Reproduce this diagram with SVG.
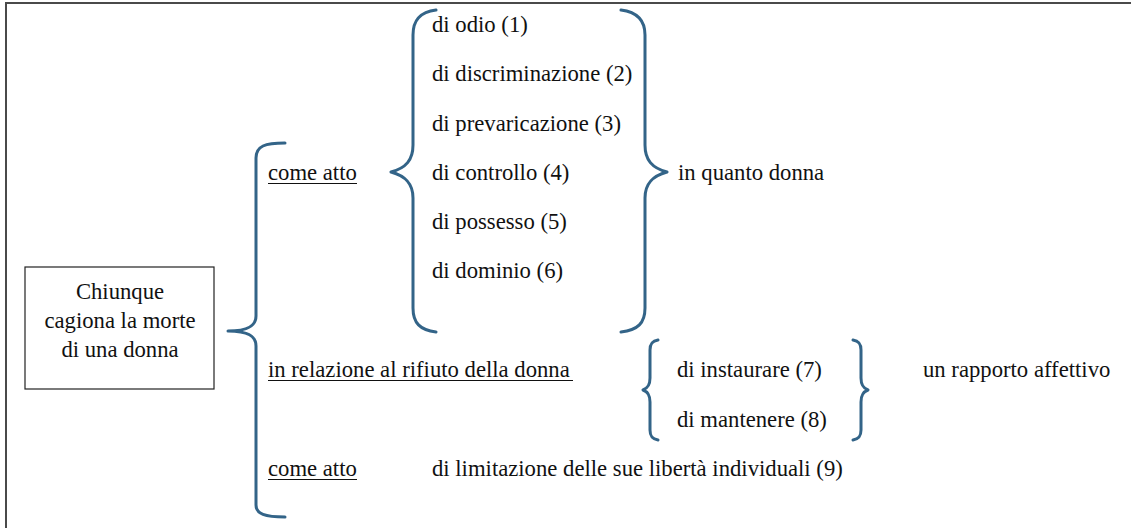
<svg xmlns="http://www.w3.org/2000/svg" width="1131" height="528" viewBox="0 0 1131 528">
<style>
text{font-family:"Liberation Serif","Times New Roman",serif;font-size:22.7px;fill:#111}
.c{text-anchor:middle}
.br{fill:none;stroke:#336488;stroke-width:3;stroke-linecap:round;stroke-linejoin:round}
.ul{stroke:#111;stroke-width:1.2}
.fr{stroke:#4a4a4a;stroke-width:2;fill:none}
</style>
<rect width="1131" height="528" fill="#fff"/>
<path class="fr" d="M6,528 L6,3 L1131,3"/>
<g id="root">
<rect x="25" y="267" width="189" height="122" fill="#fff" stroke="#222" stroke-width="1.2"/>
<text class="c" x="120" y="299">Chiunque</text>
<text class="c" x="120" y="328">cagiona la morte</text>
<text class="c" x="120" y="357">di una donna</text>
</g>
<g id="connectors">
<path class="br" d="M285,143 C265,143 256,146 256,158 L256,316 C256,326 248,331 228,331 C248,331 256,336 256,346 L256,505 C256,514 265,517 285,517"/>
<path class="br" d="M436,10 C420,12 413,20 413,35 L413,145 C413,160 406,168 391,172 C406,176 413,184 413,198 L413,308 C413,323 420,330 436,332"/>
<path class="br" d="M621,10 C637,12 645,20 645,35 L645,145 C645,160 652,168 667,172 C652,176 645,184 645,198 L645,308 C645,323 638,330 621,332"/>
<path class="br" d="M658,340 C652,341 650,344 650,350 L650,378 C650,385 648,388 643,390 C648,392 650,395 650,402 L650,430 C650,436 652,439 658,440"/>
<path class="br" d="M853,340 C859,341 861,344 861,350 L861,378 C861,385 863,388 868,390 C863,392 861,395 861,402 L861,430 C861,436 859,439 853,440"/>
</g>
<g id="branch1">
<text x="268" y="180">come atto</text>
<line class="ul" x1="268" y1="183.5" x2="357" y2="183.5"/>
</g>
<g id="list1">
<text x="432" y="32">di odio (1)</text>
<text x="432" y="81">di discriminazione (2)</text>
<text x="432" y="131">di prevaricazione (3)</text>
<text x="432" y="180">di controllo (4)</text>
<text x="432" y="229">di possesso (5)</text>
<text x="432" y="278">di dominio (6)</text>
</g>
<g id="result1">
<text x="678" y="180">in quanto donna</text>
</g>
<g id="branch2">
<text x="268" y="377">in relazione al rifiuto della donna</text>
<line class="ul" x1="268" y1="380.5" x2="573" y2="380.5"/>
</g>
<g id="list2">
<text x="677" y="377">di instaurare (7)</text>
<text x="677" y="427">di mantenere (8)</text>
</g>
<g id="result2">
<text x="923" y="377">un rapporto affettivo</text>
</g>
<g id="branch3">
<text x="268" y="476">come atto</text>
<line class="ul" x1="268" y1="479.5" x2="357" y2="479.5"/>
<text x="432" y="476">di limitazione delle sue libertà individuali (9)</text>
</g>
</svg>
